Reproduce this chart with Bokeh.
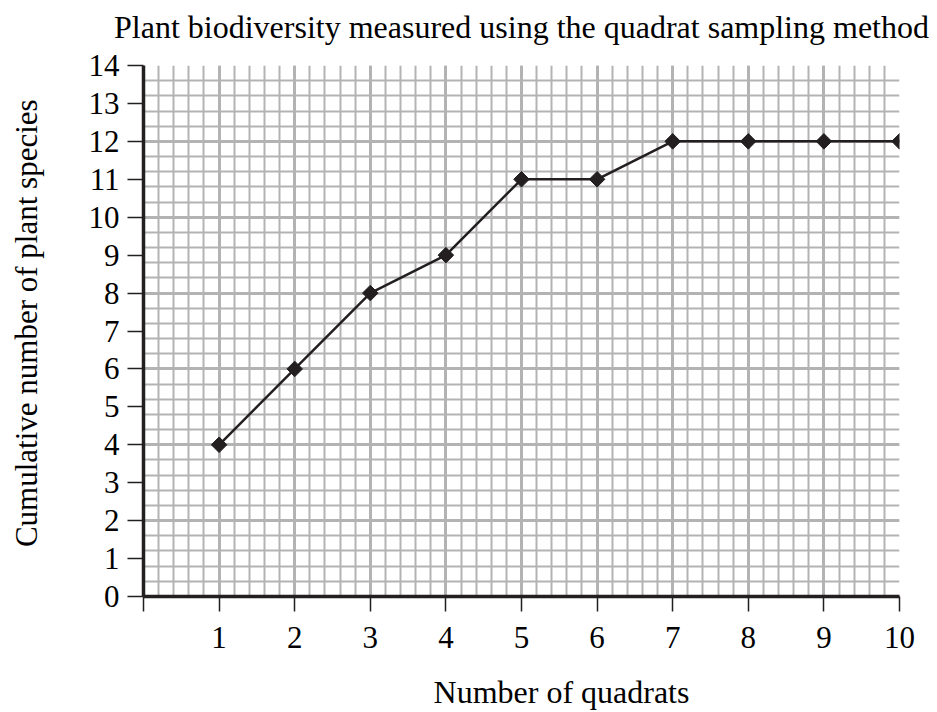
from bokeh.plotting import figure
from bokeh.models import FixedTicker, Range1d, LinearAxis
from bokeh.embed import file_html
from bokeh.resources import INLINE
import math

# ---- data ----
quadrats = [1, 2, 3, 4, 5, 6, 7, 8, 9, 10]
species = [4, 6, 8, 9, 11, 11, 12, 12, 12, 12]
x_ticks = [0, 1, 2, 3, 4, 5, 6, 7, 8, 9, 10]
y_ticks = [0, 1, 2, 3, 4, 5, 6, 7, 8, 9, 10, 11, 12, 13, 14]
x_major_grid = x_ticks
x_minor_grid = [i / 5 for i in range(0, 51)]
y_major_grid = [0, 2, 4, 6, 8, 10, 12, 14]
y_minor_grid = [i * 0.4 for i in range(0, 36)]

title = "Plant biodiversity measured using the quadrat sampling method"
x_label = "Number of quadrats"
y_label = "Cumulative number of plant species"

FONT = "Liberation Serif"
INK = "#231f20"
GRID = "#b3b3b3"
NBSP = "\u00a0"

p = figure(width=930, height=712, output_backend="svg", toolbar_location=None,
           x_range=Range1d(0, 10), y_range=Range1d(0, 14),
           min_border_left=143, min_border_right=31, min_border_top=65,
           min_border_bottom=115)
p.outline_line_color = None
p.background_fill_color = "white"
p.border_fill_color = "white"

# grids
p.xgrid.ticker = FixedTicker(ticks=x_major_grid, minor_ticks=x_minor_grid)
p.ygrid.ticker = FixedTicker(ticks=y_major_grid, minor_ticks=y_minor_grid)
for g in (p.xgrid, p.ygrid):
    g.grid_line_color = GRID
    g.grid_line_width = 3
    g.minor_grid_line_color = GRID
    g.minor_grid_line_width = 2
    g.level = "underlay"

# axes
p.xaxis.ticker = FixedTicker(ticks=x_ticks)
p.yaxis.ticker = FixedTicker(ticks=y_ticks)
p.xaxis.major_label_overrides = {0: ""}
for ax in (p.xaxis, p.yaxis):
    ax.axis_line_color = INK
    ax.axis_line_width = 3.5
    ax.major_tick_line_color = INK
    ax.major_tick_line_width = 1.5
    ax.major_tick_in = 0
    ax.minor_tick_line_color = None
    ax.major_label_text_font = FONT
    ax.major_label_text_font_size = "31px"
    ax.major_label_text_color = "black"
p.xaxis.major_tick_out = 15
p.yaxis.major_tick_out = 16
p.xaxis.major_label_standoff = 15
p.yaxis.major_label_standoff = 8


def label_axis(text, size, standoff):
    return LinearAxis(ticker=FixedTicker(ticks=[]), axis_line_color=None,
                      major_tick_line_color=None, minor_tick_line_color=None,
                      major_tick_out=0, major_tick_in=0, minor_tick_out=0, minor_tick_in=0,
                      axis_label=text, axis_label_standoff=standoff,
                      axis_label_text_font=FONT, axis_label_text_font_size=size,
                      axis_label_text_font_style="normal", axis_label_text_color="black")


# the reference places the x label a little right of centre, the y label a little high
p.add_layout(label_axis(title, "32px", 21), "above")
p.add_layout(label_axis(NBSP * 10 + x_label, "32px", 23), "below")
p.add_layout(label_axis(NBSP * 2 + y_label, "31px", 42), "left")

# data
p.line(quadrats, species, line_color=INK, line_width=2.5)
p.scatter(quadrats, species, marker="square", size=11, angle=math.pi / 4,
          fill_color=INK, line_color=INK)

open("out.html", "w").write(file_html(p, INLINE))
